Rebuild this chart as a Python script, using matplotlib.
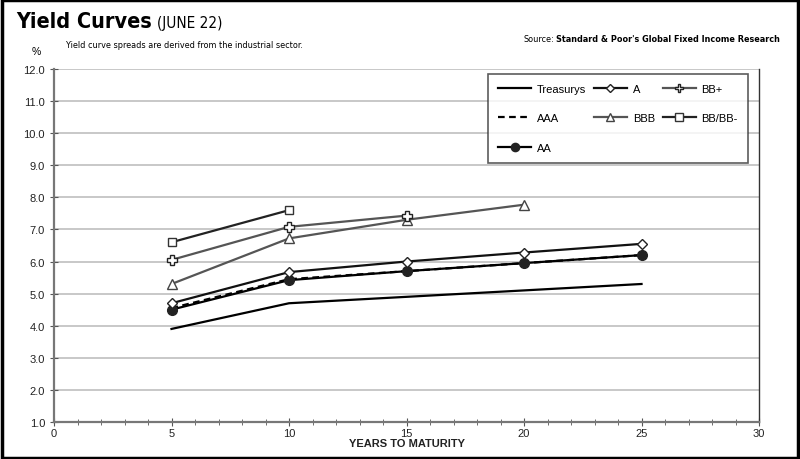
import matplotlib
matplotlib.use("Agg")
import matplotlib.pyplot as plt
from matplotlib.ticker import MultipleLocator, FormatStrFormatter
from matplotlib.patches import Rectangle

years = [5, 10, 15, 20, 25]
treasurys = [3.9, 4.7, 4.9, 5.1, 5.3]
aaa = [4.55, 5.45, 5.7, 5.95, 6.2]
aa = [4.5, 5.42, 5.7, 5.95, 6.2]
a_vals = [4.7, 5.67, 6.0, 6.28, 6.55]
bbb_years = [5, 10, 15, 20]
bbb = [5.3, 6.72, 7.3, 7.77]
bbp_years = [5, 10, 15]
bbp = [6.05, 7.08, 7.43]
bbm_years = [5, 10]
bbm = [6.6, 7.6]

SANS = ['Liberation Sans', 'DejaVu Sans']
COND = ['DejaVu Sans']

fig = plt.figure(figsize=(8, 4.6), dpi=100)
fig.patch.set_facecolor('white')
ax = fig.add_axes([0.0675, 0.0804, 0.8813, 0.7676])

ax.plot(years, treasurys, color='black', lw=1.6, label='Treasurys')
ax.plot(years, aaa, color='black', lw=1.6, ls=(0, (3, 2)), label='AAA')
ax.plot(years, aa, color='black', lw=1.6, marker='o', ms=7, mfc='#222222', mec='#222222', label='AA')
ax.plot(years, a_vals, color='#111111', lw=1.6, marker='D', ms=5, mfc='white', mec='#222222', label='A')
ax.plot(bbb_years, bbb, color='#555555', lw=1.6, marker='^', ms=7, mfc='white', mec='#444444', label='BBB')
ax.plot(bbp_years, bbp, color='#555555', lw=1.6, marker='P', ms=6.5, mfc='white', mec='#222222', label='BB+')
ax.plot(bbm_years, bbm, color='#222222', lw=1.6, marker='s', ms=6, mfc='white', mec='#333333', label='BB/BB-')

ax.set_xlim(0, 30)
ax.set_ylim(1.0, 12.0)
ax.xaxis.set_major_locator(MultipleLocator(5))
ax.xaxis.set_minor_locator(MultipleLocator(1))
ax.yaxis.set_major_locator(MultipleLocator(1))
ax.yaxis.set_major_formatter(FormatStrFormatter('%.1f'))
ax.grid(axis='y', color='#c8c8c8', lw=1.4)
ax.set_axisbelow(True)
for s in ['left', 'bottom']:
    ax.spines[s].set_color('#777777')
    ax.spines[s].set_linewidth(1.6)
ax.spines['top'].set_visible(False)
ax.spines['right'].set_color('#333333')
ax.spines['right'].set_linewidth(1.0)
ax.tick_params(axis='both', which='both', direction='inout', color='#555555', labelsize=8, labelcolor='#222222')
ax.tick_params(axis='x', which='major', length=6, pad=1)
ax.tick_params(axis='x', which='minor', length=4)
ax.tick_params(axis='y', length=6)
for lab in ax.get_xticklabels() + ax.get_yticklabels():
    lab.set_family(SANS)
ax.set_xlabel('YEARS TO MATURITY', fontsize=8, family=SANS, fontweight='bold', color='#222222', labelpad=0)

leg = ax.legend(ncol=3, loc='upper right', bbox_to_anchor=(0.992, 1.002), frameon=True, fancybox=False,
                edgecolor='#333333', handlelength=3.0, handletextpad=0.5, columnspacing=0.7,
                labelspacing=1.75, borderpad=0.9, markerscale=0.85, prop={'family': SANS, 'size': 8})
leg.get_frame().set_linewidth(1.2)

t1 = fig.text(0.02, 0.952, 'Yield Curves', family=COND, fontstretch='condensed', fontweight='bold',
              fontsize=15.5, va='center', ha='left')
fig.text(0.083, 0.902, 'Yield curve spreads are derived from the industrial sector.', family=COND,
         fontstretch='condensed', fontsize=6.5, va='center')
fig.text(0.04, 0.887, '%', family=SANS, fontsize=7.5, va='center', ha='left')
s2 = fig.text(0.975, 0.915, "Standard & Poor's Global Fixed Income Research", family=COND, fontstretch='condensed',
              fontweight='bold', fontsize=6.5, va='center', ha='right')

fig.canvas.draw()
r = fig.canvas.get_renderer()
bb1 = t1.get_window_extent(r)
fig.text((bb1.x1 + 5) / 800, 0.949, '(JUNE 22)', family=COND, fontstretch='condensed', fontsize=11,
         va='center', ha='left')
bb2 = s2.get_window_extent(r)
fig.text((bb2.x0 - 2) / 800, 0.915, 'Source:', family=COND, fontstretch='condensed', fontsize=6.5,
         va='center', ha='right')

fig.add_artist(Rectangle((0.002, 0.003), 0.996, 0.994, transform=fig.transFigure, fill=False,
                         edgecolor='black', lw=2.5))

fig.savefig('out.png', dpi=100)
